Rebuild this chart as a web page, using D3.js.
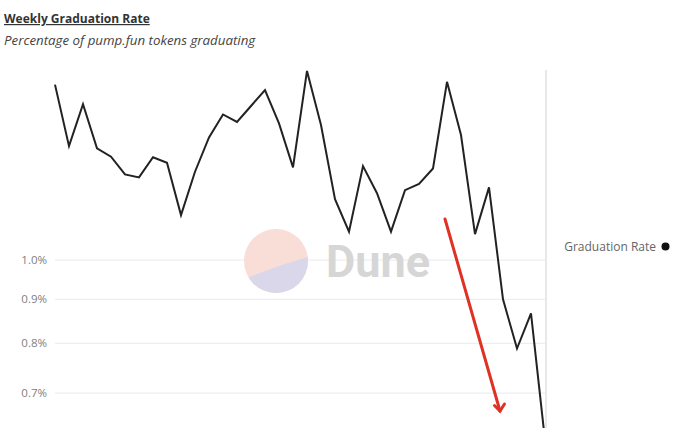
<!DOCTYPE html>
<html>
<head>
<meta charset="utf-8">
<script src="https://cdn.jsdelivr.net/npm/d3@7"></script>
<style>
  html, body { margin: 0; padding: 0; background: #fff; overflow: hidden; }
  svg { display: block; }
</style>
</head>
<body>
<svg id="chart" width="680" height="428"></svg>
<script>
// ---- data ----
const weeks = Array.from({length: 36}, (_, i) => "W" + (i + 1));
const graduationRate = [
  1.60, 1.357, 1.518, 1.349, 1.319, 1.258, 1.248, 1.317, 1.298, 1.128,
  1.267, 1.389, 1.477, 1.448, 1.511, 1.577, 1.442, 1.282, 1.660, 1.436,
  1.177, 1.079, 1.286, 1.196, 1.079, 1.206, 1.226, 1.278, 1.612, 1.398,
  1.072, 1.215, 0.900, 0.789, 0.867, 0.617
];
const yTicks = [0.7, 0.8, 0.9, 1.0];
const yTickLabels = ["0.7%", "0.8%", "0.9%", "1.0%"];
const seriesName = "Graduation Rate";
const titleText = "Weekly Graduation Rate";
const subtitleText = "Percentage of pump.fun tokens graduating";

// ---- drawing ----
const svg = d3.select("#chart");
const font = "'Open Sans', 'DejaVu Sans', sans-serif";

const x = d3.scalePoint().domain(weeks).range([55, 545]);
const y = d3.scaleLog().domain([0.6, 1.7]).range([450.7, 62]);

// title
svg.append("text")
  .attr("x", 4).attr("y", 23)
  .attr("font-family", font).attr("font-size", 12).attr("font-weight", 700)
  .attr("fill", "#333").attr("text-decoration", "underline")
  .text(titleText);
svg.append("text")
  .attr("x", 4).attr("y", 45)
  .attr("font-family", font).attr("font-size", 13.3).attr("font-style", "italic")
  .attr("fill", "#444")
  .text(subtitleText);

// grid + y labels
const grid = svg.append("g");
grid.selectAll("line").data(yTicks).join("line")
  .attr("x1", 55).attr("x2", 545)
  .attr("y1", d => y(d)).attr("y2", d => y(d))
  .attr("stroke", "#eceef3").attr("stroke-width", 1.2);
grid.selectAll("text").data(yTicks).join("text")
  .attr("x", 47).attr("y", d => y(d))
  .attr("dy", "0.35em").attr("text-anchor", "end")
  .attr("font-family", font).attr("font-size", 11.5).attr("fill", "#808080")
  .text((d, i) => yTickLabels[i]);

// right separator
svg.append("line")
  .attr("x1", 546).attr("x2", 546).attr("y1", 70).attr("y2", 428)
  .attr("stroke", "#e8e8e8").attr("stroke-width", 2);

// watermark
const wm = svg.append("g");
const cx = 276, cy = 261, r = 32;
wm.append("circle").attr("cx", cx).attr("cy", cy).attr("r", r).attr("fill", "#f9ddd7");
const clipId = "wmclip";
svg.append("clipPath").attr("id", clipId)
  .append("circle").attr("cx", cx).attr("cy", cy).attr("r", r);
wm.append("path")
  .attr("clip-path", `url(#${clipId})`)
  .attr("d", `M ${cx - 40} ${cy + 22} Q ${cx} ${cy + 4} ${cx + 40} ${cy - 6} L ${cx + 40} ${cy + 40} L ${cx - 40} ${cy + 40} Z`)
  .attr("fill", "#d9d7e9");
wm.append("text")
  .attr("x", 326).attr("y", 277)
  .attr("font-family", "Roboto, 'Open Sans', sans-serif").attr("font-size", 45).attr("font-weight", 700)
  .attr("fill", "#d6d6d6")
  .text("Dune");

// line
const line = d3.line()
  .x((d, i) => x(weeks[i]))
  .y(d => y(d));
svg.append("path")
  .datum(graduationRate)
  .attr("d", line)
  .attr("fill", "none")
  .attr("stroke", "#222")
  .attr("stroke-width", 2)
  .attr("stroke-linejoin", "miter");

// red annotation arrow
const arrow = svg.append("g").attr("stroke", "#e03224").attr("stroke-width", 3)
  .attr("stroke-linecap", "round").attr("fill", "none");
arrow.append("line").attr("x1", 445).attr("y1", 219).attr("x2", 500).attr("y2", 411);
arrow.append("path").attr("d", "M 494.5 405.5 L 500 411 L 504.5 404");

// legend
svg.append("text")
  .attr("x", 656).attr("y", 247)
  .attr("dy", "0.35em").attr("text-anchor", "end")
  .attr("font-family", font).attr("font-size", 12).attr("fill", "#666")
  .text(seriesName);
svg.append("circle").attr("cx", 665.5).attr("cy", 246.5).attr("r", 4).attr("fill", "#111");
</script>
</body>
</html>
